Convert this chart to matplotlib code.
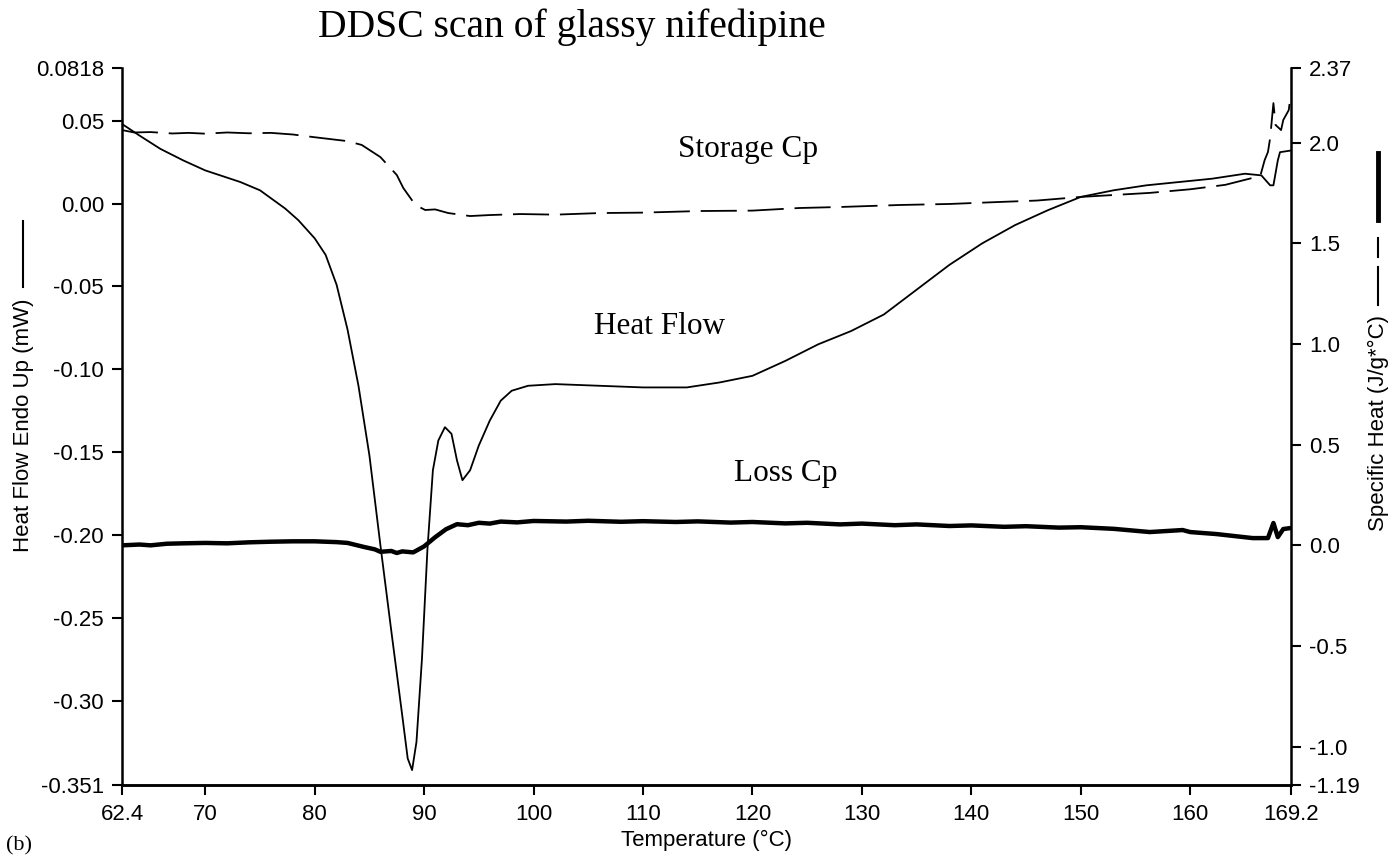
import matplotlib.pyplot as plt
from matplotlib.lines import Line2D

# --- datos ---
# Heat Flow (mW, eje izquierdo)
hf_temp = [62.4, 64.0, 65.9, 68.0, 70.0, 73.2, 75.0, 77.3, 78.5, 80.0, 81.0, 82.0,
           83.0, 84.0, 85.0, 86.0, 87.0, 88.0, 88.5, 88.9, 89.3, 89.8, 90.3, 90.8,
           91.3, 91.9, 92.5, 93.0, 93.5, 94.2, 95.0, 96.0, 97.0, 98.0, 99.5, 102.0,
           106.0, 110.0, 114.0, 117.0, 120.0, 123.0, 126.0, 129.0, 132.0, 135.0,
           138.0, 141.0, 144.0, 147.0, 150.0, 153.0, 156.0, 159.0, 162.0, 165.0,
           166.5, 167.3, 167.6, 168.0, 168.2, 169.2]
hf_val = [0.048, 0.041, 0.033, 0.026, 0.020, 0.013, 0.008, -0.003, -0.010, -0.021,
          -0.031, -0.049, -0.076, -0.110, -0.152, -0.206, -0.258, -0.309, -0.335,
          -0.342, -0.325, -0.275, -0.209, -0.161, -0.143, -0.135, -0.139, -0.155,
          -0.167, -0.161, -0.146, -0.131, -0.119, -0.113, -0.110, -0.109, -0.110,
          -0.111, -0.111, -0.108, -0.104, -0.095, -0.085, -0.077, -0.067, -0.052,
          -0.037, -0.024, -0.013, -0.004, 0.004, 0.008, 0.011, 0.013, 0.015, 0.018,
          0.017, 0.011, 0.011, 0.026, 0.031, 0.032]

# Storage Cp (J/g*C, eje derecho)
sc_temp = [62.4, 63.5, 65.0, 67.0, 68.5, 70.0, 72.0, 74.0, 76.0, 78.0, 79.9, 83.0,
           84.3, 86.0, 87.5, 88.1, 89.2, 90.1, 91.0, 92.2, 94.2, 96.0, 98.8, 102.0,
           106.1, 110.0, 115.2, 120.0, 124.3, 128.0, 133.5, 138.0, 142.6, 146.0,
           150.0, 156.3, 160.0, 163.2, 166.4, 166.8, 167.1, 167.3, 167.6, 167.8,
           168.3, 168.5, 169.0, 169.2]
sc_val = [2.062, 2.050, 2.052, 2.045, 2.048, 2.044, 2.050, 2.046, 2.048, 2.040,
          2.027, 2.007, 1.988, 1.928, 1.839, 1.774, 1.690, 1.665, 1.668, 1.650,
          1.635, 1.640, 1.645, 1.642, 1.650, 1.652, 1.660, 1.662, 1.675, 1.680,
          1.690, 1.695, 1.705, 1.712, 1.730, 1.750, 1.768, 1.790, 1.834, 1.913,
          1.953, 2.022, 2.196, 2.087, 2.062, 2.112, 2.161, 2.246]

# Loss Cp (J/g*C, eje derecho)
lc_temp = [62.4, 64.0, 65.0, 66.5, 68.0, 70.0, 72.0, 74.0, 76.0, 78.0, 80.0, 82.0,
           83.0, 84.5, 85.5, 86.0, 87.0, 87.5, 88.0, 89.0, 90.0, 91.0, 92.0, 93.0,
           94.0, 95.0, 96.0, 97.0, 98.5, 100.0, 103.0, 105.0, 108.0, 110.0, 113.0,
           115.0, 118.0, 120.0, 123.0, 125.0, 128.0, 130.0, 133.0, 135.0, 138.0,
           140.0, 143.0, 145.0, 148.0, 150.0, 153.0, 156.3, 159.3, 160.0, 162.4,
           165.7, 167.1, 167.6, 168.0, 168.5, 169.2]
lc_val = [0.000, 0.004, 0.000, 0.008, 0.010, 0.012, 0.010, 0.015, 0.018, 0.020,
          0.020, 0.016, 0.012, -0.008, -0.020, -0.032, -0.028, -0.038, -0.030,
          -0.035, -0.005, 0.040, 0.080, 0.105, 0.100, 0.112, 0.108, 0.118, 0.114,
          0.121, 0.118, 0.122, 0.117, 0.120, 0.116, 0.119, 0.113, 0.116, 0.109,
          0.112, 0.104, 0.108, 0.100, 0.104, 0.096, 0.099, 0.092, 0.095, 0.088,
          0.090, 0.082, 0.066, 0.076, 0.066, 0.056, 0.036, 0.036, 0.111, 0.041,
          0.081, 0.086]

x_ticks = [62.4, 70, 80, 90, 100, 110, 120, 130, 140, 150, 160, 169.2]
x_labels = ['62.4', '70', '80', '90', '100', '110', '120', '130', '140', '150', '160', '169.2']
yl_ticks = [0.0818, 0.05, 0.0, -0.05, -0.10, -0.15, -0.20, -0.25, -0.30, -0.351]
yl_labels = ['0.0818', '0.05', '0.00', '-0.05', '-0.10', '-0.15', '-0.20', '-0.25', '-0.30', '-0.351']
yr_ticks = [2.37, 2.0, 1.5, 1.0, 0.5, 0.0, -0.5, -1.0, -1.19]
yr_labels = ['2.37', '2.0', '1.5', '1.0', '0.5', '0.0', '-0.5', '-1.0', '-1.19']

plt.rcParams['font.family'] = ['Liberation Sans', 'DejaVu Sans']
plt.rcParams['axes.unicode_minus'] = False
serif = ['Liberation Serif', 'DejaVu Serif']

fig = plt.figure(figsize=(13.95, 8.6), dpi=100)
ax = fig.add_axes([0.0875, 0.0872, 0.8379, 0.8337])
ax2 = ax.twinx()

ax.plot(hf_temp, hf_val, color='black', lw=1.3)
ax2.plot(sc_temp, sc_val, color='black', lw=1.3, linestyle=(0, (20, 6)))
ax2.plot(lc_temp, lc_val, color='black', lw=3.2)

ax.set_xlim(62.4, 169.2)
ax.set_ylim(-0.351, 0.0818)
ax2.set_ylim(-1.19, 2.37)

ax.set_xticks(x_ticks)
ax.set_xticklabels(x_labels)
ax.set_yticks(yl_ticks)
ax.set_yticklabels(yl_labels)
ax2.set_yticks(yr_ticks)
ax2.set_yticklabels(yr_labels)

for a in (ax, ax2):
    a.spines['top'].set_visible(False)
    for s in a.spines.values():
        s.set_linewidth(1.8)
    a.tick_params(direction='out', length=7, width=1.5, labelsize=16, colors='black')
ax.spines['right'].set_visible(False)
ax2.spines['left'].set_visible(False)
ax.tick_params(axis='x', pad=7)
ax.tick_params(axis='y', pad=6)
ax2.tick_params(axis='y', pad=6)

ax.set_xlabel('Temperature (°C)', fontsize=16, labelpad=3)

# titulo y etiquetas
fig.text(0.41, 0.968, 'DDSC scan of glassy nifedipine', family=serif, fontsize=28.5,
         ha='center', va='center')
fig.text(0.536, 0.8256, 'Storage Cp', family=serif, fontsize=22.5, ha='center', va='center')
fig.text(0.473, 0.620, 'Heat Flow', family=serif, fontsize=22.5, ha='center', va='center')
fig.text(0.5635, 0.450, 'Loss Cp', family=serif, fontsize=22.5, ha='center', va='center')
fig.text(0.004, 0.017, '(b)', family=serif, fontsize=16, ha='left', va='center')

# etiquetas de ejes con su muestra de linea
fig.text(0.0165, 0.505, 'Heat Flow Endo Up (mW)', fontsize=16, rotation=90,
         ha='center', va='center')
fig.add_artist(Line2D([0.0165, 0.0165], [0.666, 0.743], color='black', lw=1.5,
                      transform=fig.transFigure))
fig.text(0.988, 0.508, 'Specific Heat (J/g*°C)', fontsize=16, rotation=90,
         ha='center', va='center')
fig.add_artist(Line2D([0.9875, 0.9875], [1 - 220 / 860, 1 - 153 / 860], color='black',
                      lw=3.5, transform=fig.transFigure))
fig.add_artist(Line2D([0.9875, 0.9875], [1 - 257 / 860, 1 - 238 / 860], color='black',
                      lw=1.5, transform=fig.transFigure))
fig.add_artist(Line2D([0.9875, 0.9875], [1 - 305 / 860, 1 - 267 / 860], color='black',
                      lw=1.5, transform=fig.transFigure))

fig.savefig('out.png', dpi=100)
